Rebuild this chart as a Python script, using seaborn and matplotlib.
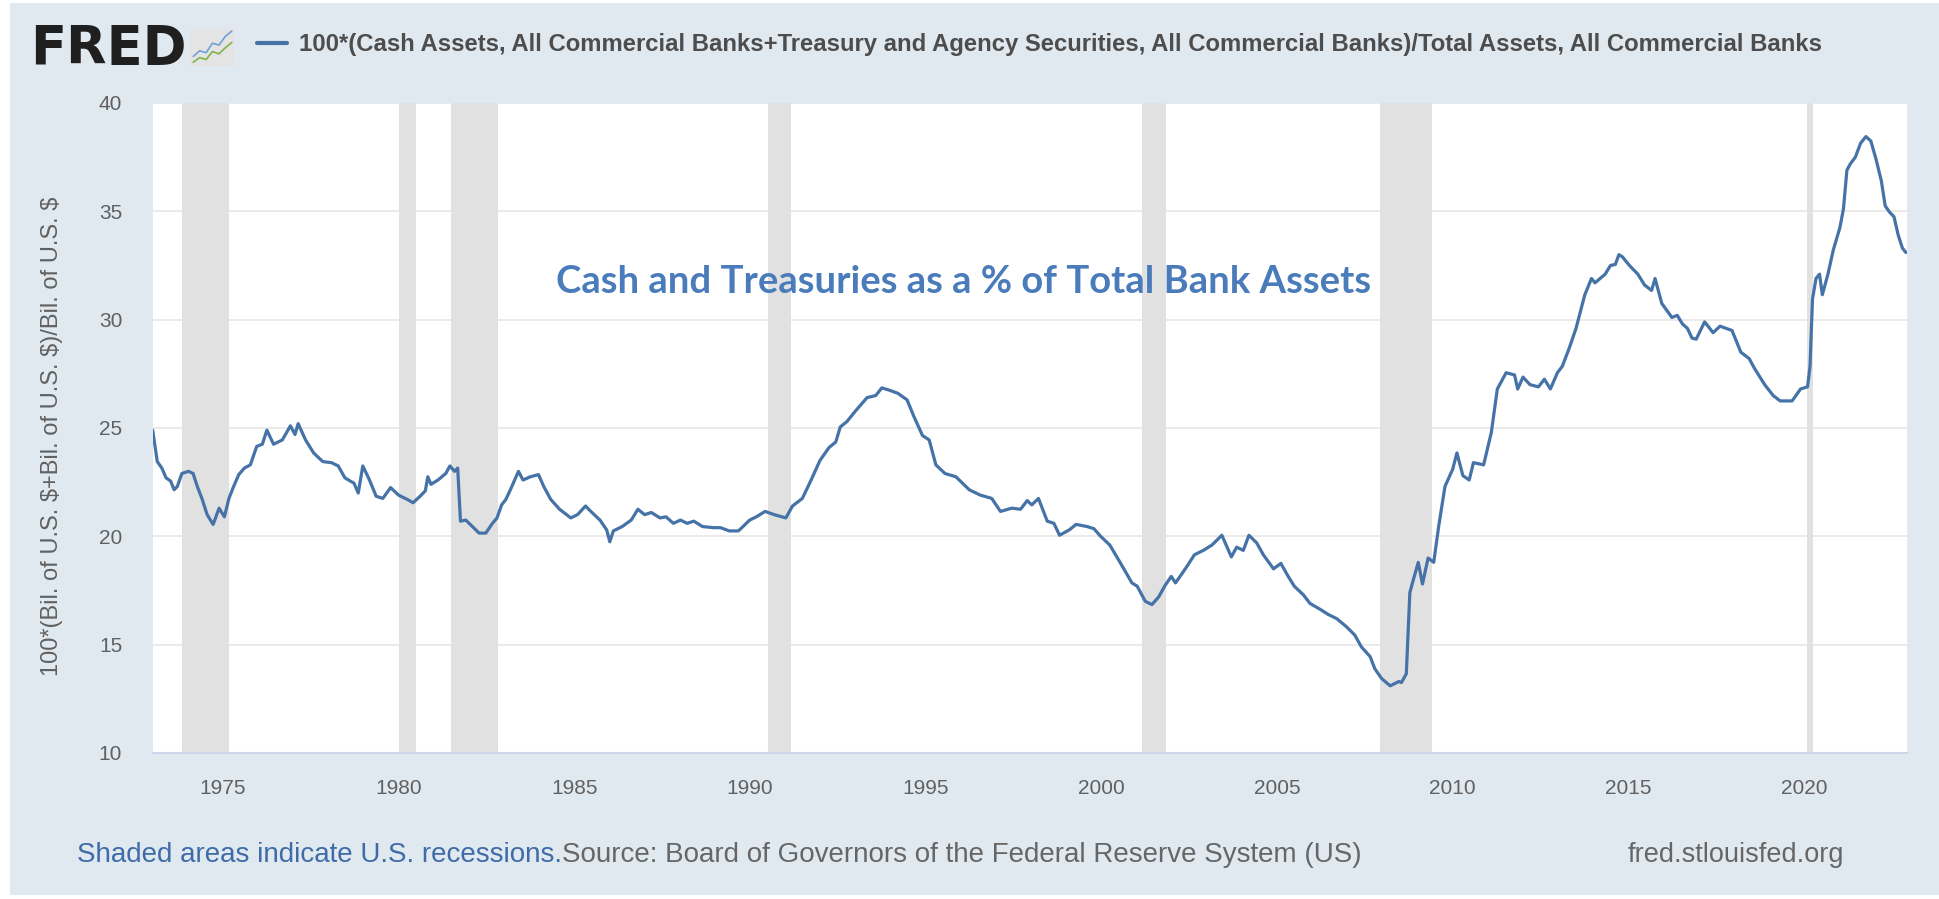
import numpy as np
import pandas as pd
import matplotlib
matplotlib.use("Agg")
import matplotlib.pyplot as plt
from matplotlib.patches import Rectangle
import seaborn as sns

# ---------------- data ----------------
dates = [
    1973.00, 1973.13, 1973.26, 1973.38, 1973.51, 1973.61, 1973.70, 1973.83, 1974.02, 1974.15,
    1974.27, 1974.40, 1974.55, 1974.72, 1974.89, 1975.04, 1975.17, 1975.29, 1975.45, 1975.61,
    1975.78, 1975.96, 1976.12, 1976.25, 1976.44, 1976.69, 1976.92, 1977.05, 1977.14, 1977.35,
    1977.58, 1977.84, 1978.09, 1978.28, 1978.47, 1978.73, 1978.85, 1978.98, 1979.17, 1979.36,
    1979.55, 1979.77, 1980.00, 1980.25, 1980.41, 1980.61, 1980.76, 1980.83, 1980.92, 1981.12,
    1981.34, 1981.46, 1981.59, 1981.68, 1981.76, 1981.91, 1982.10, 1982.29, 1982.48, 1982.67,
    1982.80, 1982.93, 1983.05, 1983.18, 1983.41, 1983.54, 1983.75, 1983.98, 1984.13, 1984.33,
    1984.58, 1984.90, 1985.09, 1985.32, 1985.47, 1985.73, 1985.92, 1986.01, 1986.11, 1986.36,
    1986.62, 1986.81, 1987.00, 1987.19, 1987.44, 1987.61, 1987.82, 1988.02, 1988.21, 1988.40,
    1988.65, 1988.97, 1989.16, 1989.41, 1989.67, 1989.80, 1989.99, 1990.18, 1990.43, 1990.69,
    1991.02, 1991.21,
    1991.49, 1991.74, 1991.99, 1992.25, 1992.44, 1992.57, 1992.76, 1993.01, 1993.33, 1993.58,
    1993.75, 1993.96, 1994.21, 1994.47, 1994.66, 1994.91, 1995.10, 1995.29, 1995.55, 1995.86,
    1996.24, 1996.56, 1996.88, 1997.13, 1997.45, 1997.70, 1997.89, 1998.02, 1998.21, 1998.46,
    1998.65, 1998.81, 1999.09, 1999.28, 1999.60, 1999.79, 1999.98, 2000.24, 2000.55, 2000.87,
    2001.02, 2001.25, 2001.44, 2001.63, 2001.82, 2001.99, 2002.11, 2002.39, 2002.65, 2002.90,
    2003.15, 2003.43, 2003.70, 2003.85, 2004.04, 2004.20, 2004.42, 2004.61, 2004.90, 2005.11,
    2005.30, 2005.49, 2005.75, 2005.94, 2006.26, 2006.45, 2006.70, 2006.96, 2007.21, 2007.40,
    2007.65, 2007.78, 2007.97, 2008.22, 2008.47,
    2008.54, 2008.68, 2008.78, 2008.88, 2009.02, 2009.14, 2009.30, 2009.46, 2009.60, 2009.78,
    2010.00, 2010.12, 2010.29, 2010.47, 2010.59, 2010.88, 2011.10, 2011.27, 2011.52, 2011.76,
    2011.85, 2012.00, 2012.20, 2012.44, 2012.61, 2012.78, 2012.98, 2013.12, 2013.32, 2013.51,
    2013.76, 2013.95, 2014.05, 2014.34, 2014.49, 2014.63, 2014.73, 2014.83, 2015.03, 2015.27,
    2015.46, 2015.66, 2015.76, 2015.95, 2016.15, 2016.24, 2016.39, 2016.54, 2016.68, 2016.81,
    2016.93, 2017.17, 2017.41, 2017.61, 2017.95, 2018.20, 2018.44, 2018.59, 2018.88, 2019.12,
    2019.32, 2019.66, 2019.90, 2020.10, 2020.17, 2020.24, 2020.34, 2020.44, 2020.52, 2020.68,
    2020.83, 2021.02, 2021.12, 2021.22, 2021.32, 2021.46, 2021.61, 2021.76, 2021.90, 2022.05,
    2022.20, 2022.31, 2022.44, 2022.56, 2022.68, 2022.80, 2022.90,
]
ratio = [
    24.90, 23.45, 23.15, 22.70, 22.55, 22.15, 22.30, 22.90, 23.00, 22.90,
    22.30, 21.75, 21.00, 20.55, 21.30, 20.90, 21.75, 22.25, 22.85, 23.15,
    23.30, 24.15, 24.25, 24.90, 24.25, 24.45, 25.10, 24.70, 25.20, 24.45,
    23.85, 23.45, 23.40, 23.25, 22.70, 22.45, 22.00, 23.25, 22.60, 21.85,
    21.75, 22.25, 21.90, 21.70, 21.55, 21.85, 22.10, 22.75, 22.40, 22.60,
    22.90, 23.25, 23.00, 23.15, 20.70, 20.75, 20.45, 20.15, 20.15, 20.60,
    20.85, 21.45, 21.70, 22.15, 23.00, 22.60, 22.75, 22.85, 22.30, 21.70,
    21.25, 20.85, 21.00, 21.40, 21.15, 20.75, 20.30, 19.75, 20.25, 20.45,
    20.75, 21.25, 21.00, 21.10, 20.85, 20.90, 20.60, 20.75, 20.60, 20.70,
    20.45, 20.40, 20.40, 20.25, 20.25, 20.45, 20.75, 20.90, 21.15, 21.00,
    20.85, 21.40,
    21.75, 22.60, 23.50, 24.10, 24.35, 25.05, 25.30, 25.80, 26.40, 26.50,
    26.85, 26.75, 26.60, 26.30, 25.55, 24.65, 24.45, 23.30, 22.90, 22.75,
    22.15, 21.90, 21.75, 21.15, 21.30, 21.25, 21.65, 21.45, 21.75, 20.70,
    20.60, 20.05, 20.30, 20.55, 20.45, 20.35, 20.00, 19.60, 18.75, 17.85,
    17.70, 17.00, 16.85, 17.20, 17.75, 18.15, 17.85, 18.50, 19.15, 19.35,
    19.60, 20.05, 19.05, 19.50, 19.35, 20.05, 19.70, 19.15, 18.50, 18.75,
    18.20, 17.70, 17.30, 16.90, 16.60, 16.40, 16.20, 15.85, 15.45, 14.90,
    14.45, 13.90, 13.45, 13.10, 13.30,
    13.25, 13.66, 17.40, 18.00, 18.80, 17.80, 19.00, 18.80, 20.45, 22.30,
    23.10, 23.85, 22.80, 22.60, 23.40, 23.30, 24.80, 26.80, 27.55, 27.45,
    26.80, 27.35, 27.00, 26.90, 27.25, 26.80, 27.55, 27.85, 28.70, 29.60,
    31.15, 31.90, 31.70, 32.10, 32.50, 32.55, 33.00, 32.90, 32.50, 32.10,
    31.60, 31.35, 31.90, 30.75, 30.30, 30.10, 30.20, 29.80, 29.60, 29.15,
    29.10, 29.90, 29.40, 29.70, 29.50, 28.50, 28.20, 27.75, 27.00, 26.50,
    26.25, 26.25, 26.80, 26.90, 27.85, 30.95, 31.90, 32.10, 31.15, 32.10,
    33.20, 34.25, 35.10, 36.90, 37.20, 37.50, 38.15, 38.45, 38.25, 37.40,
    36.40, 35.25, 34.95, 34.75, 33.90, 33.30, 33.10,
]
recession_start = [1973.83, 1980.00, 1981.50, 1990.50, 2001.17, 2007.92, 2020.08]
recession_end = [1975.17, 1980.50, 1982.83, 1991.17, 2001.83, 2009.42, 2020.25]
x_ticks = [1975, 1980, 1985, 1990, 1995, 2000, 2005, 2010, 2015, 2020]
y_ticks = [10, 15, 20, 25, 30, 35, 40]

series_label = ("100*(Cash Assets, All Commercial Banks+Treasury and Agency Securities, "
                "All Commercial Banks)/Total Assets, All Commercial Banks")
y_label = "100*(Bil. of U.S. $+Bil. of U.S. $)/Bil. of U.S. $"
annotation = "Cash and Treasuries as a % of Total Bank Assets"
footer_blue = "Shaded areas indicate U.S. recessions."
footer_source = "Source: Board of Governors of the Federal Reserve System (US)"
footer_right = "fred.stlouisfed.org"

# ---------------- style ----------------
sns.set_theme(style="white")
plt.rcParams['font.family'] = ['Liberation Sans', 'DejaVu Sans']

BG = "#e1e9f0"
LINE = "#4572a7"
GRID = "#e6e6e6"
REC = "#e1e1e1"
AXIS = "#ccd6eb"
TXT = "#666666"

W, H = 1939, 899
fig = plt.figure(figsize=(W / 100, H / 100), dpi=100)
fig.patch.set_facecolor("white")
fig.add_artist(Rectangle((10 / W, 4 / H), 1 - 10 / W, 1 - 7 / H,
                         transform=fig.transFigure, facecolor=BG, edgecolor="none", zorder=-10))

ax = fig.add_axes([152.7 / W, 1 - 753 / H, (1907 - 152.7) / W, (753 - 103) / H])
ax.set_facecolor("white")

df = pd.DataFrame({"date": dates, "ratio": ratio})
for s, e in zip(recession_start, recession_end):
    ax.axvspan(s, e, color=REC, lw=0, zorder=1)

sns.lineplot(data=df, x="date", y="ratio", ax=ax, color=LINE, linewidth=2.3,
             label=series_label, zorder=3)

ax.set_xlim(1973.0, 2022.93)
ax.set_ylim(10, 40)
ax.set_xticks(x_ticks)
ax.set_xticklabels([str(t) for t in x_ticks])
ax.set_yticks(y_ticks)
ax.set_yticklabels([str(t) for t in y_ticks])
ax.yaxis.grid(True, color=GRID, lw=1.2, zorder=0)
ax.xaxis.grid(False)
ax.set_axisbelow(True)
for sp in ["top", "left", "right"]:
    ax.spines[sp].set_visible(False)
ax.spines["bottom"].set_color(AXIS)
ax.spines["bottom"].set_linewidth(1.5)
ax.tick_params(axis="x", colors=AXIS, length=13, width=1, pad=6, labelsize=15, labelcolor="#606060")
ax.tick_params(axis="y", length=0, pad=22, labelsize=15, labelcolor="#606060")
ax.set_xlabel("")
ax.set_ylabel("")

fig.text(52 / W, 1 - 436 / H, y_label, rotation=90, ha="center", va="center",
         fontsize=17, color="#606060")

ax.text(1996.07, 31.74, annotation, ha="center", va="center", fontsize=27.5,
        fontweight="bold", color="#4a7cbb", family=["Lato", "DejaVu Sans"], zorder=5)

# header
fig.text(30 / W, 1 - 64 / H, "FRED", fontsize=38, fontweight="bold", color="#1f1f1f",
         va="baseline", ha="left", family=["DejaVu Sans"])
icon = fig.add_axes([190 / W, 1 - 66 / H, 45 / W, 38 / H])
icon.set_facecolor("#e4e4e4")
icon_blue = [0.25, 0.4, 0.35, 0.6, 0.55, 0.78, 0.92]
icon_green = [0.1, 0.22, 0.17, 0.38, 0.32, 0.48, 0.62]
icon.plot(icon_blue, color="#6fa0d8", lw=1.2)
icon.plot(icon_green, color="#7fb548", lw=1.2)
icon.set_xlim(-0.5, 6.5); icon.set_ylim(0, 1)
icon.set_xticks([]); icon.set_yticks([])
for sp in icon.spines.values():
    sp.set_visible(False)

leg = ax.legend(loc="center left", bbox_to_anchor=(257 / W, 1 - 45 / H),
                bbox_transform=fig.transFigure, frameon=False,
                prop={"size": 17.2, "weight": "bold"},
                handlelength=1.25, handletextpad=0.5, borderpad=0, borderaxespad=0)
for t in leg.get_texts():
    t.set_color("#4d4d4d")
for l in leg.get_lines():
    l.set_linewidth(3)

# footer
t1 = fig.text(77 / W, 1 - 855 / H, footer_blue, fontsize=20, color="#3f6ca8",
              ha="left", va="center")
ax.annotate(footer_source, xy=(1, 0.5), xycoords=t1, ha="left", va="center",
            fontsize=20, color="#666666", annotation_clip=False)
fig.text(1844 / W, 1 - 855 / H, footer_right, fontsize=19.5, color="#666666",
         ha="right", va="center")

fig.savefig("out.png", dpi=100, facecolor=fig.get_facecolor())
